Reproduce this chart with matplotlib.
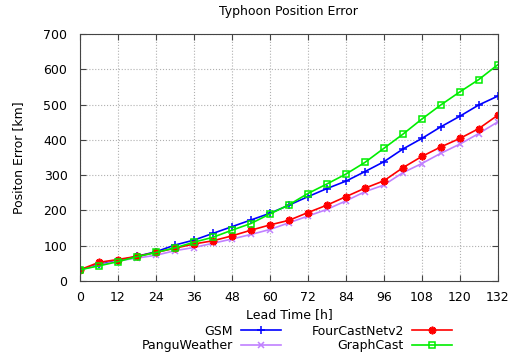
import matplotlib
matplotlib.use("Agg")
import matplotlib.pyplot as plt

# lead times every 6 h
lead_time = list(range(0, 133, 6))

# mean track error [km] per model
gsm = [32, 47, 58, 70, 83, 102, 116, 135, 154, 173, 192, 215, 239, 262, 283, 310,
       338, 374, 404, 437, 467, 499, 524]
pangu = [32, 45, 57, 65, 73, 86, 95, 107, 119, 132, 146, 165, 184, 203, 227, 253,
         272, 307, 333, 362, 388, 418, 451]
fourcast = [32, 53, 61, 70, 81, 93, 105, 114, 128, 144, 159, 172, 194, 215, 239, 263,
            284, 321, 353, 380, 404, 432, 470]
graphcast = [32, 43, 55, 69, 81, 94, 110, 124, 144, 163, 190, 216, 248, 275, 303, 336,
             376, 416, 459, 499, 536, 571, 613]

x_ticks = list(range(0, 133, 12))
y_ticks = list(range(0, 701, 100))

plt.rcParams['font.family'] = 'DejaVu Sans'
plt.rcParams['font.size'] = 9

fig = plt.figure(figsize=(5.18, 3.58), dpi=100)
ax = fig.add_axes([0.1544, 0.215, 0.8066, 0.69])

asterisk = (8, 2, 0)
ax.plot(lead_time, gsm, color='#0000ff', marker='+', markersize=6, markeredgewidth=1.1,
        linewidth=1.2, label='GSM')
ax.plot(lead_time, pangu, color='#c080ff', marker='x', markersize=4.5, markeredgewidth=1.1,
        linewidth=1.2, label='PanguWeather')
ax.plot(lead_time, fourcast, color='#ff0000', marker=asterisk, markersize=5.5, markeredgewidth=1.3,
        linewidth=1.2, label='FourCastNetv2')
ax.plot(lead_time, graphcast, color='#00ee00', marker='s', markersize=4.5, markerfacecolor='none',
        markeredgewidth=1.1, linewidth=1.2, label='GraphCast')

ax.set_xlim(0, 132)
ax.set_ylim(0, 700)
ax.set_xticks(x_ticks)
ax.set_yticks(y_ticks)
ax.tick_params(axis='y', which='major', direction='in', left=True, right=True,
               length=4, color='#444444', pad=9)
ax.tick_params(axis='x', which='major', direction='in', bottom=True, top=True,
               length=4, color='#444444', pad=7)
ax.grid(True, linestyle=':', color='#b0b0b0', linewidth=0.8)
for s in ax.spines.values():
    s.set_color('#444444')

ax.set_title('Typhoon Position Error', fontsize=9, pad=14)
ax.set_xlabel('Lead Time [h]', labelpad=3)
ax.set_ylabel('Positon Error [km]', labelpad=13)

fig.legend(loc='upper center', bbox_to_anchor=(0.573, 0.118), ncol=2, frameon=False,
           markerfirst=False, handlelength=3.2, columnspacing=2.4, labelspacing=0.15,
           handletextpad=0.7, borderpad=0.2)

fig.savefig('out.png', dpi=100)
